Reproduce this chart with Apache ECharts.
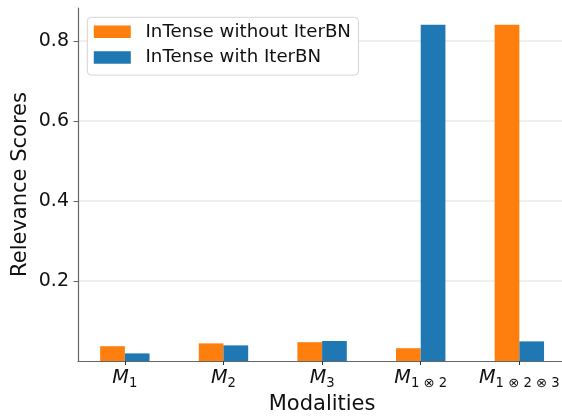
<!DOCTYPE html>
<html>
<head>
<meta charset="utf-8">
<script src="https://cdn.jsdelivr.net/npm/echarts@6/dist/echarts.min.js"></script>
<style>html,body{margin:0;padding:0;background:#fff;}#c{width:562px;height:416px;}</style>
</head>
<body>
<div id="c"></div>
<script>
var categoryMain = ['M', 'M', 'M', 'M', 'M'];
var categorySub = ['1', '2', '3', '1 \u2297 2', '1 \u2297 2 \u2297 3'];
var seriesNames = ['InTense without IterBN', 'InTense with IterBN'];
var withoutIterBN = [0.037, 0.044, 0.047, 0.032, 0.84];
var withIterBN = [0.019, 0.039, 0.050, 0.84, 0.049];
var yTickValues = [0.2, 0.4, 0.6, 0.8];
var xTickValues = [0, 1, 2, 3, 4];

var FONT = 'DejaVu Sans';
function pairs(arr) { return arr.map(function (v, i) { return [xTickValues[i], v]; }); }

var chart = echarts.init(document.getElementById('c'), null, { renderer: 'canvas' });
chart.setOption({
  animation: false,
  backgroundColor: '#ffffff',
  textStyle: { fontFamily: FONT },
  grid: { left: 78, top: 8, bottom: 55, right: -4.2, containLabel: false, outerBoundsMode: 'none' },
  legend: {
    orient: 'vertical',
    left: 87.3, top: 17.3,
    padding: [4.5, 7.5, 7.5, 6.5],
    itemWidth: 37, itemHeight: 12.5, itemGap: 5.8,
    borderColor: '#d4d4d4', borderWidth: 1, borderRadius: 4,
    backgroundColor: '#ffffff',
    icon: 'rect',
    textStyle: { fontFamily: FONT, fontSize: 18.2, lineHeight: 20, color: '#111', padding: [0, 0, 0, 9.7] },
    data: seriesNames
  },
  xAxis: {
    type: 'value',
    min: -0.475, max: 4.475,
    name: 'Modalities', nameLocation: 'middle', nameGap: 33.5, nameMoveOverlap: false,
    nameTextStyle: { fontFamily: FONT, fontSize: 21, color: '#111' },
    axisLine: { show: true, onZero: false, lineStyle: { color: '#666', width: 1.2 } },
    axisTick: { show: true, length: 4, customValues: xTickValues, lineStyle: { color: '#333', width: 1 } },
    splitLine: { show: false },
    axisLabel: {
      customValues: xTickValues, margin: 6, color: '#111',
      formatter: function (v) {
        var i = Math.round(v);
        return '{m|' + categoryMain[i] + '}{s|' + categorySub[i] + '}';
      },
      rich: {
        m: { fontFamily: FONT, fontStyle: 'italic', fontSize: 19.2, lineHeight: 23, color: '#111' },
        s: { fontFamily: FONT, fontSize: 13.2, lineHeight: 13, verticalAlign: 'bottom', color: '#111' }
      }
    }
  },
  yAxis: {
    type: 'value',
    min: 0, max: 0.882,
    name: 'Relevance Scores', nameLocation: 'middle', nameGap: 47, nameMoveOverlap: false,
    nameTextStyle: { fontFamily: FONT, fontSize: 21, color: '#111' },
    axisLine: { show: true, onZero: false, lineStyle: { color: '#666', width: 1.2 } },
    axisTick: { show: true, length: 4.5, customValues: yTickValues, lineStyle: { color: '#666', width: 1 } },
    axisLabel: { customValues: yTickValues, margin: 9, fontFamily: FONT, fontSize: 19, color: '#111',
      formatter: function (v) { return v.toFixed(1); } },
    splitLine: { show: true, lineStyle: { color: '#ebebeb', width: 1.5 } }
  },
  series: [
    { name: seriesNames[0], type: 'bar', data: pairs(withoutIterBN), barWidth: 24.7, barGap: '0%', itemStyle: { color: '#ff7f0e' } },
    { name: seriesNames[1], type: 'bar', data: pairs(withIterBN), barWidth: 24.7, barGap: '0%', itemStyle: { color: '#1f77b4' } }
  ]
});
</script>
</body>
</html>
